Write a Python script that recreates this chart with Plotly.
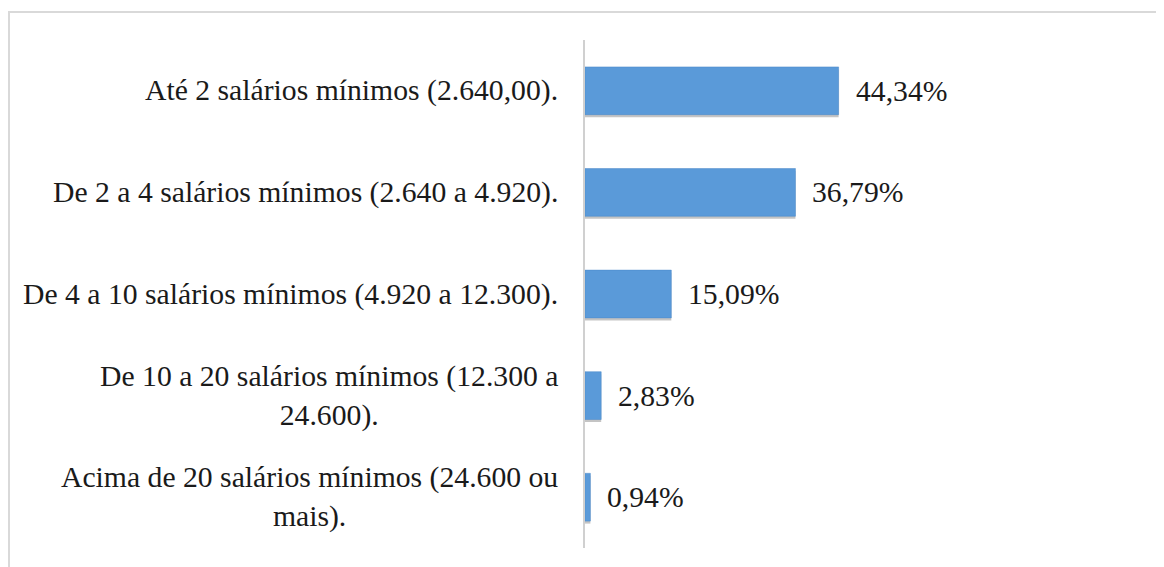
import plotly.graph_objects as go

categories = [
    "Até 2 salários mínimos (2.640,00).",
    "De 2 a 4 salários mínimos (2.640 a 4.920).",
    "De 4 a 10 salários mínimos (4.920 a 12.300).",
    "De 10 a 20 salários mínimos (12.300 a<br>24.600).",
    "Acima de 20 salários mínimos (24.600 ou<br>mais).",
]
values = [44.34, 36.79, 15.09, 2.83, 0.94]
labels = [f"{v:.2f}".replace(".", ",") + "%" for v in values]

FONT = "Liberation Serif, Times New Roman, serif"
FS = 29.7
W, H = 1164, 567
OFF = 8  # page body offset
L, R, T, B = 585 - OFF, 15, 40 - OFF, 19 + OFF

fig = go.Figure()
# soft shadow
fig.add_trace(go.Bar(
    y=categories, x=values, orientation="h",
    width=0.47, offset=-0.21,
    marker=dict(color="rgba(60,60,60,0.30)", line=dict(width=0)),
    hoverinfo="skip", showlegend=False,
))
fig.add_trace(go.Bar(
    y=categories, x=values, orientation="h",
    width=0.47, offset=-0.235,
    marker=dict(color="#5a9ad9", line=dict(color="#4a89c9", width=0.5)),
    showlegend=False,
))

for c, v, t in zip(categories, values, labels):
    fig.add_annotation(x=v, y=c, text=t, xanchor="left", yanchor="middle",
                       xshift=15, showarrow=False,
                       font=dict(family=FONT, size=FS, color="#1a1a1a"))
    fig.add_annotation(x=0, y=c, text=c, xanchor="right", yanchor="middle",
                       align="center", xshift=-25, showarrow=False,
                       font=dict(family=FONT, size=FS, color="#1a1a1a"))

pw = W - L - R
ph = H - T - B
fig.add_shape(type="rect", xref="paper", yref="paper",
              x0=(9 - 585) / pw, x1=1.2, y0=-0.2, y1=1 + (40 - 12) / ph,
              line=dict(color="#d9d9d9", width=2), layer="below")

fig.update_layout(
    width=W, height=H,
    margin=dict(l=L, r=R, t=T, b=B),
    paper_bgcolor="white", plot_bgcolor="white",
    barmode="overlay",
    xaxis=dict(range=[0, 100], showgrid=False, zeroline=False,
               showticklabels=False, showline=False, fixedrange=True),
    yaxis=dict(autorange="reversed", showticklabels=False, showgrid=False,
               zeroline=False, showline=True, linecolor="#d0d0d0", linewidth=2,
               ticks=""),
    font=dict(family=FONT),
)

fig.write_html("out.html")
